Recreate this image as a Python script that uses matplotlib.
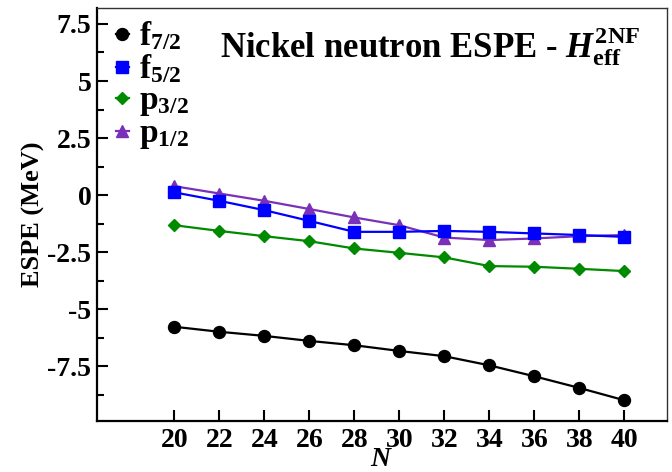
import matplotlib
matplotlib.use("Agg")
import matplotlib.pyplot as plt
from matplotlib.ticker import MultipleLocator, FuncFormatter

# data
n_values = [20, 22, 24, 26, 28, 30, 32, 34, 36, 38, 40]
f72 = [-5.77, -5.99, -6.17, -6.39, -6.58, -6.83, -7.06, -7.46, -7.94, -8.45, -8.99]
f52 = [0.12, -0.25, -0.66, -1.13, -1.61, -1.61, -1.57, -1.61, -1.68, -1.75, -1.83]
p32 = [-1.32, -1.57, -1.80, -2.02, -2.34, -2.53, -2.73, -3.11, -3.14, -3.23, -3.33]
p12 = [0.39, 0.07, -0.25, -0.61, -0.98, -1.32, -1.86, -1.97, -1.90, -1.80, -1.75]

x_ticks = [20, 22, 24, 26, 28, 30, 32, 34, 36, 38, 40]

plt.rcParams["font.family"] = ["Liberation Serif", "DejaVu Serif"]
plt.rcParams["font.weight"] = "bold"
plt.rcParams["mathtext.fontset"] = "custom"
plt.rcParams["mathtext.rm"] = "Liberation Serif:bold"
plt.rcParams["mathtext.bf"] = "Liberation Serif:bold"
plt.rcParams["mathtext.it"] = "Liberation Serif:italic:bold"

fig = plt.figure(figsize=(6.72, 4.72), dpi=100)
ax = fig.add_axes([97 / 672, 51 / 472, 570 / 672, 413 / 472])

lw = 1.6
ax.plot(n_values, f72, color="black", marker="o", ms=8.6, lw=lw,
        mec="black", label=r"$\mathrm{f}_{7/2}$", zorder=3)
ax.plot(n_values, p12, color="#7a30b8", marker="^", ms=8.8, lw=lw,
        mec="#7a30b8", label=r"$\mathrm{p}_{1/2}$", zorder=2)
ax.plot(n_values, f52, color="#0000ff", marker="s", ms=8.4, lw=lw,
        mec="#0000ff", label=r"$\mathrm{f}_{5/2}$", zorder=4)
ax.plot(n_values, p32, color="#008a00", marker="D", ms=6.6, lw=lw,
        mec="#008a00", label=r"$\mathrm{p}_{3/2}$", zorder=3)

ax.set_xlim(16.56, 41.9)
ax.set_ylim(-9.9, 8.2)
ax.set_xticks(x_ticks)
ax.yaxis.set_minor_locator(MultipleLocator(1.25))
ax.set_yticks([-7.5, -5, -2.5, 0, 2.5, 5, 7.5])
ax.yaxis.set_major_formatter(FuncFormatter(lambda v, _: f"{v:g}"))

ax.tick_params(axis="both", direction="in", labelsize=20, width=1.5)
ax.tick_params(axis="x", which="major", length=8, pad=5, top=False)
ax.tick_params(axis="y", which="major", length=8, pad=4, right=False)
ax.tick_params(axis="y", which="minor", direction="in", length=5, width=1.5, right=False)
for label in ax.get_xticklabels() + ax.get_yticklabels():
    label.set_fontweight("bold")

for side in ["left", "bottom"]:
    ax.spines[side].set_linewidth(1.6)
for side in ["top", "right"]:
    ax.spines[side].set_linewidth(1.0)
    ax.spines[side].set_color("#333333")

ax.set_xlabel(r"$\mathit{N}$", fontsize=20, labelpad=-4)
ax.set_ylabel("ESPE (MeV)", fontsize=19, fontweight="bold", labelpad=2)

ax.text(0.585, 0.879, r"Nickel neutron ESPE - $\mathit{H}_{\mathrm{eff}}^{\mathrm{2NF}}$",
        transform=ax.transAxes, ha="center", va="baseline", fontsize=25, fontweight="bold")

handles, labels = ax.get_legend_handles_labels()
order = [0, 2, 3, 1]
ax.legend([handles[i] for i in order], [labels[i] for i in order],
          loc="upper left", bbox_to_anchor=(0.012, 1.0), frameon=False,
          fontsize=24, handlelength=0.4, handletextpad=0.3, labelspacing=0.0,
          numpoints=1, borderaxespad=0.1, borderpad=0.25)

fig.savefig("out.png", dpi=100)
